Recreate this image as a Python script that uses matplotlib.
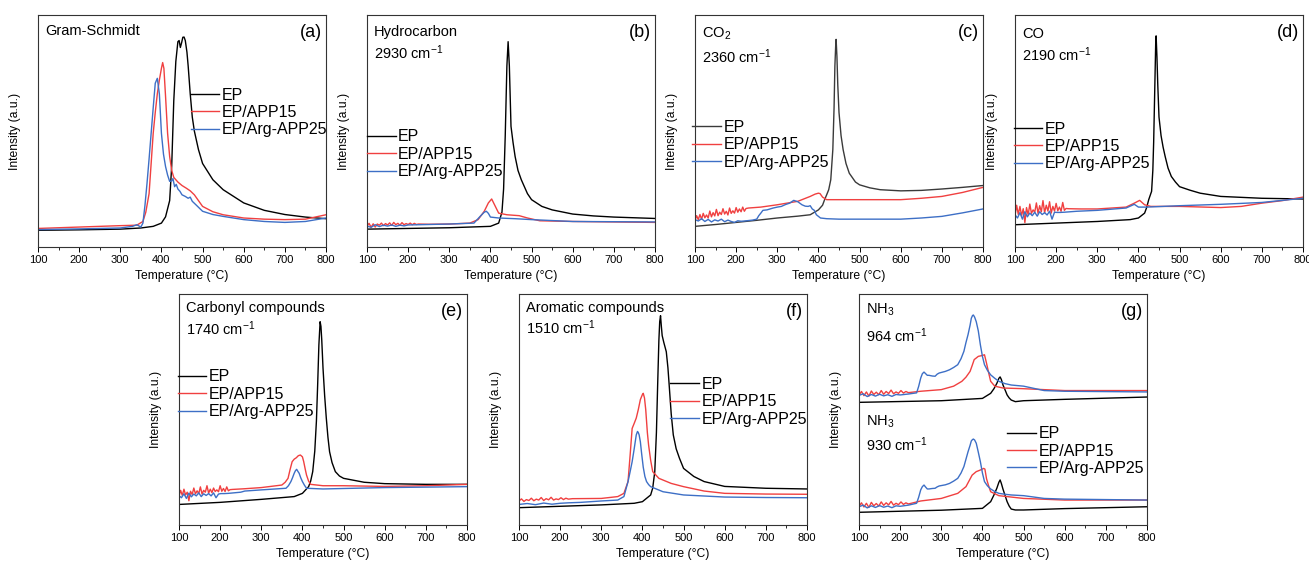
import matplotlib
matplotlib.use('Agg')
import matplotlib.pyplot as plt
from matplotlib.ticker import MultipleLocator

plt.rcParams['font.family'] = ['Liberation Sans', 'DejaVu Sans']
plt.rcParams['mathtext.fontset'] = 'custom'
plt.rcParams['mathtext.rm'] = 'Liberation Sans'
plt.rcParams['mathtext.it'] = 'Liberation Sans:italic'
plt.rcParams['mathtext.default'] = 'regular'

labels = ['EP', 'EP/APP15', 'EP/Arg-APP25']

# (a) Gram-Schmidt
a_ep_t = [100, 200, 300, 350, 380, 400, 410, 420, 425, 430, 435, 440, 443, 446, 449, 452, 455, 458, 462, 465, 470, 475, 480, 490, 500, 525, 550, 600, 650, 700, 750, 800]
a_ep_i = [7.2, 7.4, 7.7, 8.2, 8.9, 10.3, 13, 20, 35, 63, 80, 88.5, 89, 86, 88, 90.4, 90.5, 89, 84, 78, 66, 56, 50, 42, 36, 29, 24.7, 19, 15.8, 14, 12.9, 12.2]
a_app15_t = [100, 150, 200, 250, 300, 340, 355, 362, 370, 375, 380, 385, 390, 395, 400, 403, 406, 410, 415, 420, 425, 430, 440, 450, 460, 470, 480, 490, 500, 525, 550, 600, 650, 700, 750, 800]
a_app15_i = [8.0, 8.3, 8.6, 8.9, 9.2, 9.4, 11, 15, 23, 36, 49, 58, 66, 72, 77, 79.5, 77, 65, 49, 39, 33, 30, 28, 26.5, 25.4, 24.2, 22.5, 20, 17.5, 15.2, 13.9, 12.5, 12, 11.8, 12, 13.9]
a_arg_t = [100, 200, 300, 330, 340, 350, 355, 360, 365, 370, 375, 380, 385, 390, 395, 400, 405, 410, 415, 420, 425, 428, 432, 436, 440, 445, 450, 458, 465, 470, 475, 485, 500, 525, 550, 600, 650, 700, 750, 800]
a_arg_i = [7.5, 7.8, 8.2, 8.9, 9.6, 8.6, 10.3, 18, 27.5, 38, 49, 60, 70.6, 72.7, 66, 49, 40, 34.7, 31, 28.3, 28.5, 29.5, 26, 27, 25, 24, 22.5, 21.8, 21, 21.5, 19.7, 18, 15.4, 14, 13.2, 11.8, 11, 10.6, 11, 12.5]

# (b) Hydrocarbon
b_ep_t = [100, 200, 300, 400, 420, 428, 432, 436, 440, 443, 446, 450, 455, 460, 467, 475, 490, 500, 525, 550, 600, 650, 700, 800]
b_ep_i = [7.7, 8.0, 8.3, 8.9, 10.3, 15, 25, 48, 78, 88.5, 78, 52, 45, 39, 33, 29, 23, 20.4, 17.5, 16, 14.2, 13.4, 12.9, 12.3]
b_app15_t = [100, 105, 110, 115, 120, 125, 130, 135, 140, 145, 150, 155, 160, 165, 170, 175, 180, 185, 190, 195, 200, 205, 210, 215, 220, 225, 250, 300, 350, 370, 385, 395, 403, 410, 420, 440, 470, 490, 520, 600, 700, 800]
b_app15_i = [9.0, 10.2, 8.5, 10.0, 8.6, 9.9, 9.4, 10.3, 9.2, 10.1, 9.5, 10.4, 9.3, 10.6, 9.6, 10.2, 9.4, 10.5, 9.6, 10.1, 9.7, 10.3, 9.6, 10.2, 9.7, 9.9, 9.8, 9.9, 10.3, 11.8, 15.4, 19, 20.7, 18.2, 14.6, 13.9, 13.5, 12.5, 11.3, 11, 10.8, 10.6]
b_arg_t = [100, 110, 120, 130, 140, 150, 160, 170, 180, 190, 200, 225, 250, 300, 360, 375, 385, 390, 395, 400, 420, 460, 500, 600, 700, 800]
b_arg_i = [9.0, 8.5, 9.6, 8.8, 9.4, 9.0, 9.5, 8.9, 9.4, 9.1, 9.5, 9.6, 9.7, 9.9, 10.3, 13.2, 15, 15.4, 14.5, 12.9, 12.5, 12.2, 11.8, 11, 10.9, 10.8]

# (c) CO2
c_ep_t = [100, 150, 200, 250, 300, 350, 380, 400, 410, 415, 420, 425, 430, 435, 438, 440, 442, 443, 445, 447, 450, 455, 460, 467, 475, 490, 500, 525, 550, 600, 650, 700, 750, 800]
c_ep_i = [8.9, 9.7, 10.6, 11.5, 12.5, 13.3, 13.9, 16, 18, 20.4, 22.5, 24.7, 29, 42, 60, 78, 87, 89.5, 82, 70, 58, 48, 42, 36, 31.8, 28, 26.8, 25.5, 24.7, 24.2, 24.4, 25, 25.7, 26.5]
c_app15_t = [100, 104, 108, 112, 116, 120, 124, 128, 132, 136, 140, 144, 148, 152, 156, 160, 164, 168, 172, 176, 180, 184, 188, 192, 196, 200, 204, 208, 212, 216, 220, 224, 230, 260, 300, 350, 380, 392, 400, 404, 410, 420, 450, 500, 600, 650, 700, 750, 800]
c_app15_i = [11.5, 13.5, 11.8, 14.0, 12.0, 14.5, 12.6, 13.8, 12.5, 15.5, 13.0, 14.8, 13.4, 16.2, 13.5, 15.0, 14.0, 16.5, 14.2, 15.4, 13.8, 16.8, 14.5, 15.6, 14.6, 17.0, 15.0, 16.4, 15.2, 17.2, 15.4, 16.6, 16.8, 17.2, 18.2, 19.7, 21.8, 22.8, 23.2, 23, 21.5, 20.4, 20.4, 20.4, 20.4, 21, 21.8, 23.5, 25.7]
c_arg_t = [100, 108, 116, 124, 132, 140, 148, 156, 164, 172, 180, 188, 196, 204, 212, 220, 230, 240, 250, 255, 260, 265, 275, 290, 300, 310, 320, 330, 340, 350, 360, 368, 375, 380, 385, 390, 395, 400, 405, 420, 450, 500, 600, 650, 700, 750, 800]
c_arg_i = [11.8, 11.2, 12.2, 11.0, 11.9, 10.8, 11.7, 11.2, 12.0, 10.9, 11.6, 11.0, 10.6, 11.3, 11.1, 11.2, 11.4, 11.6, 12, 13.5, 14.6, 15.8, 16.0, 16.8, 17.2, 17.5, 18.3, 18.9, 20.1, 19.5, 18.2, 17.6, 17.5, 17.8, 16.4, 15.8, 13.9, 13.2, 12.5, 12.2, 12, 12, 12, 12.5, 13.2, 14.7, 16.4]

# (d) CO
d_ep_t = [100, 200, 300, 380, 400, 415, 420, 425, 432, 435, 437, 440, 442, 443, 445, 447, 450, 455, 460, 465, 472, 480, 490, 500, 525, 550, 600, 700, 800]
d_ep_i = [9.6, 10.3, 11, 11.8, 12.5, 14.6, 17, 20.4, 24, 33, 45, 70.6, 88, 91, 82, 70, 56, 48, 43, 39, 34, 30.4, 28, 26, 24.5, 23.2, 21.8, 21, 20.7]
d_app15_t = [100, 104, 108, 112, 116, 120, 124, 128, 132, 136, 140, 144, 148, 152, 156, 160, 164, 168, 172, 176, 180, 184, 188, 192, 196, 200, 204, 208, 212, 216, 220, 224, 230, 260, 300, 370, 390, 403, 415, 430, 500, 600, 650, 700, 750, 800]
d_app15_i = [13.5, 18.0, 14.0, 17.5, 13.5, 16.5, 10.5, 17.0, 13.8, 18.5, 14.5, 16.0, 15.0, 19.0, 14.5, 17.8, 15.2, 20.0, 14.8, 18.0, 15.5, 19.5, 14.6, 17.5, 15.5, 18.8, 15.6, 17.2, 15.4, 19.2, 15.8, 16.6, 16.5, 16.4, 16.4, 17.2, 18.9, 20.1, 18.2, 17.5, 17.5, 17.0, 17.5, 18.9, 20.0, 21.5]
d_arg_t = [100, 106, 112, 118, 124, 130, 136, 142, 148, 154, 160, 166, 172, 178, 184, 190, 196, 202, 210, 220, 250, 300, 370, 390, 400, 420, 500, 600, 700, 800]
d_arg_i = [13.9, 12.5, 14.8, 12.0, 15.2, 13.0, 14.6, 13.5, 15.0, 13.3, 15.2, 14.0, 14.8, 13.8, 15.4, 12.0, 15.0, 14.9, 14.9, 15.0, 15.4, 15.8, 16.8, 18.4, 17.2, 17.2, 17.8, 18.4, 19.2, 21]

# (e) Carbonyl compounds
e_ep_t = [100, 200, 300, 380, 400, 415, 420, 425, 430, 434, 437, 440, 443, 445, 447, 450, 454, 458, 462, 466, 472, 480, 490, 500, 550, 600, 700, 800]
e_ep_i = [8.9, 9.8, 11.1, 12.3, 13.7, 16.6, 19, 23.1, 32, 45, 60.6, 78, 88, 86, 80, 68, 56, 46.3, 38, 31.7, 27, 23.1, 21.2, 20.2, 18.5, 17.9, 17.6, 17.6]
e_app15_t = [100, 104, 108, 112, 116, 120, 124, 128, 132, 136, 140, 144, 148, 152, 156, 160, 164, 168, 172, 176, 180, 184, 188, 192, 196, 200, 204, 208, 212, 216, 220, 224, 230, 260, 300, 350, 358, 365, 370, 375, 380, 385, 390, 395, 400, 403, 407, 410, 415, 420, 450, 500, 600, 700, 800]
e_app15_i = [12.5, 15.0, 12.8, 15.5, 13.0, 14.2, 10.5, 14.6, 13.2, 16.0, 13.5, 14.8, 13.6, 16.5, 13.4, 15.0, 14.2, 17.0, 13.8, 15.5, 14.0, 16.0, 14.5, 15.2, 14.4, 17.0, 14.6, 15.8, 14.5, 16.5, 14.8, 15.3, 15.4, 15.7, 16.2, 17.3, 18.5, 20.2, 24, 27.4, 28.5, 29.1, 30, 30.3, 29.5, 27.5, 24, 21.6, 19, 17.6, 17, 17, 16.7, 17, 17.6]
e_arg_t = [100, 106, 112, 118, 124, 130, 136, 142, 148, 154, 160, 166, 172, 178, 184, 190, 196, 202, 210, 220, 250, 260, 300, 360, 366, 372, 376, 380, 383, 386, 389, 392, 396, 400, 405, 410, 450, 600, 800]
e_arg_i = [12.7, 11.8, 13.5, 11.5, 13.8, 12.2, 13.4, 12.6, 13.9, 12.3, 13.5, 12.8, 13.6, 12.6, 13.9, 11.8, 13.4, 13.6, 13.6, 13.7, 14.2, 14.7, 15.2, 15.9, 17, 18.8, 20.5, 22.4, 23.5, 24.1, 23.2, 22.4, 20.4, 18.8, 17.2, 15.9, 15.6, 16.2, 16.6]

# (f) Aromatic compounds
f_ep_t = [100, 200, 300, 380, 400, 420, 425, 430, 434, 437, 440, 442, 444, 446, 448, 452, 455, 458, 462, 465, 470, 475, 482, 490, 500, 525, 550, 600, 700, 800]
f_ep_i = [7.5, 8.1, 8.7, 9.4, 10.1, 13, 16, 23.1, 40, 60.6, 80, 88, 90.6, 86, 82, 79, 77, 75, 68, 60.6, 48, 39, 33, 28.9, 24.5, 21, 18.8, 16.7, 15.9, 15.6]
f_app15_t = [100, 106, 112, 118, 124, 130, 136, 142, 148, 154, 160, 166, 172, 178, 184, 190, 196, 202, 208, 214, 220, 230, 300, 340, 355, 365, 370, 375, 380, 385, 390, 395, 400, 402, 405, 408, 412, 415, 420, 425, 440, 470, 500, 550, 600, 700, 800]
f_app15_i = [10.4, 11.3, 10.2, 11.0, 10.6, 11.6, 10.5, 11.2, 10.8, 11.9, 10.6, 11.4, 10.9, 12.0, 10.8, 11.3, 11.0, 11.8, 11.0, 11.6, 11.2, 11.4, 11.5, 12.3, 13.7, 18.8, 30, 41.8, 44, 46.3, 50, 54.3, 56.5, 57, 55, 50, 40, 34.6, 28, 23.1, 20.2, 18, 16.6, 14.7, 13.7, 13.4, 13.3]
f_arg_t = [100, 120, 140, 160, 180, 200, 220, 250, 300, 340, 355, 365, 370, 375, 380, 385, 388, 390, 392, 395, 398, 402, 406, 410, 415, 420, 450, 500, 600, 700, 800]
f_arg_i = [8.9, 9.3, 8.8, 9.5, 9.0, 9.4, 9.6, 9.8, 10.4, 10.8, 12.3, 18.8, 23, 27.4, 33, 39, 40.5, 40, 39, 36, 31, 25, 21, 18.8, 17.5, 16.6, 14.4, 13, 12.1, 11.9, 11.8]

# (g) NH3, 964 cm-1 (upper set)
g1_ep_t = [100, 300, 400, 420, 428, 435, 440, 443, 446, 450, 455, 460, 465, 470, 480, 500, 600, 800]
g1_ep_i = [53.1, 53.8, 54.8, 57, 59, 61.3, 63.5, 64.1, 63, 60.6, 58.5, 56.3, 55, 54.1, 53.4, 53.8, 54.4, 55.4]
g1_app15_t = [100, 106, 112, 118, 124, 130, 136, 142, 148, 154, 160, 166, 172, 178, 184, 190, 196, 202, 208, 214, 220, 250, 300, 330, 350, 360, 370, 375, 380, 390, 400, 405, 410, 415, 420, 430, 450, 500, 600, 800]
g1_app15_i = [56.2, 57.8, 56.0, 57.6, 55.8, 58.0, 56.5, 57.5, 56.4, 58.2, 56.6, 57.8, 56.9, 58.4, 56.8, 57.6, 57.0, 58.2, 57.1, 57.8, 57.3, 57.9, 58.6, 60.1, 62.2, 64, 66.5, 69, 71.6, 73, 73.4, 73.7, 70, 66, 62.2, 60.1, 59.3, 59, 58.2, 58.2]
g1_arg_t = [100, 110, 120, 130, 140, 150, 160, 170, 180, 190, 200, 220, 240, 245, 250, 254, 258, 262, 266, 270, 278, 285, 290, 295, 310, 320, 330, 340, 348, 355, 360, 365, 370, 373, 376, 378, 381, 385, 390, 395, 400, 405, 412, 420, 430, 440, 455, 470, 500, 550, 600, 800]
g1_arg_i = [56.1, 56.8, 55.6, 56.5, 55.8, 56.6, 55.9, 56.4, 55.7, 56.5, 56.3, 56.7, 57.2, 60, 63.6, 65.5, 66.2, 65.5, 64.8, 64.8, 64.5, 64.4, 65.3, 65.8, 66.5, 67.2, 68.2, 69.4, 72, 75.2, 79, 82.4, 86.5, 89.5, 90.7, 90.9, 90, 88, 84, 78, 73, 69.4, 67, 65, 63.5, 62.2, 61.2, 60.6, 60.1, 58.2, 57.9, 57.6]

# (g) NH3, 930 cm-1 (lower set)
g2_ep_t = [100, 300, 400, 420, 428, 435, 440, 443, 446, 450, 455, 460, 465, 470, 480, 500, 600, 800]
g2_ep_i = [5.5, 6.4, 7.2, 10.1, 13, 15.9, 18.5, 19.5, 18, 15.5, 12.8, 10.1, 8.2, 6.9, 6.5, 6.5, 7.1, 7.9]
g2_app15_t = [100, 106, 112, 118, 124, 130, 136, 142, 148, 154, 160, 166, 172, 178, 184, 190, 196, 202, 208, 214, 220, 250, 300, 340, 360, 375, 385, 395, 403, 406, 410, 415, 420, 440, 500, 600, 800]
g2_app15_i = [8.0, 9.6, 7.8, 9.4, 7.6, 9.8, 8.3, 9.3, 8.2, 10.0, 8.5, 9.6, 8.7, 10.2, 8.6, 9.4, 8.8, 10.0, 8.9, 9.6, 9.1, 10.4, 11.5, 13.7, 16.6, 21.6, 23.1, 23.8, 24.5, 24.2, 20, 17, 14.4, 12.7, 11.5, 10.8, 10.8]
g2_arg_t = g1_arg_t
g2_arg_i = [7.9, 8.6, 7.4, 8.3, 7.6, 8.4, 7.7, 8.2, 7.5, 8.3, 8.1, 8.6, 9.4, 12, 15.2, 16.6, 17.3, 16.4, 15.6, 15.6, 15.8, 15.9, 16.5, 16.9, 17.4, 18, 19, 20.2, 22.5, 25.3, 28.5, 31.7, 34.5, 36.4, 37, 37.2, 36.8, 35.4, 31.5, 27.4, 22.5, 18.8, 17, 15.6, 14.5, 13.7, 13.3, 13, 12.7, 11.5, 11.2, 10.8]

RED = '#f04040'
BLUE = '#3d6fc6'

W, H = 1309, 562
fig = plt.figure(figsize=(W / 100, H / 100), dpi=100)


def make_ax(left, top, bottom, width=288):
    return fig.add_axes([left / W, 1 - bottom / H, width / W, (bottom - top) / H])


panels = [
    # axes px, curves, texts, tag, legend (x, yc)
    (make_ax(38, 15, 247), [(a_ep_t, a_ep_i, 'k'), (a_app15_t, a_app15_i, RED), (a_arg_t, a_arg_i, BLUE)],
     [('Gram-Schmidt', 0.93)], '(a)', (0.53, 0.58)),
    (make_ax(367, 15, 247), [(b_ep_t, b_ep_i, 'k'), (b_app15_t, b_app15_i, RED), (b_arg_t, b_arg_i, BLUE)],
     [('Hydrocarbon', 0.925), ('2930 cm$^{-1}$', 0.838)], '(b)', (0.0, 0.40)),
    (make_ax(695, 15, 247), [(c_ep_t, c_ep_i, '#3a3a3a'), (c_app15_t, c_app15_i, RED), (c_arg_t, c_arg_i, BLUE)],
     [('CO$_2$', 0.92), ('2360 cm$^{-1}$', 0.82)], '(c)', (-0.01, 0.44)),
    (make_ax(1015, 15, 247), [(d_ep_t, d_ep_i, 'k'), (d_app15_t, d_app15_i, RED), (d_arg_t, d_arg_i, BLUE)],
     [('CO', 0.92), ('2190 cm$^{-1}$', 0.83)], '(d)', (-0.005, 0.433)),
    (make_ax(179, 294, 525), [(e_ep_t, e_ep_i, 'k'), (e_app15_t, e_app15_i, RED), (e_arg_t, e_arg_i, BLUE)],
     [('Carbonyl compounds', 0.938), ('1740 cm$^{-1}$', 0.85)], '(e)', (-0.005, 0.566)),
    (make_ax(519, 294, 525), [(f_ep_t, f_ep_i, 'k'), (f_app15_t, f_app15_i, RED), (f_arg_t, f_arg_i, BLUE)],
     [('Aromatic compounds', 0.94), ('1510 cm$^{-1}$', 0.854)], '(f)', (0.525, 0.534)),
    (make_ax(859, 294, 525), [(g2_ep_t, g2_ep_i, 'k'), (g2_app15_t, g2_app15_i, RED), (g2_arg_t, g2_arg_i, BLUE),
                              (g1_ep_t, g1_ep_i, 'k'), (g1_app15_t, g1_app15_i, RED), (g1_arg_t, g1_arg_i, BLUE)],
     [('NH$_3$', 0.93), ('964 cm$^{-1}$', 0.82), ('NH$_3$', 0.447), ('930 cm$^{-1}$', 0.346)], '(g)', (0.515, 0.32)),
]

for ax, curves, texts, tag, leg in panels:
    for i, (t, y, c) in enumerate(curves):
        ax.plot(t, y, color=c, lw=1.0, label=labels[i] if i < 3 else None)
    ax.set_xlim(100, 800)
    ax.set_ylim(0, 100)
    ax.xaxis.set_major_locator(MultipleLocator(100))
    ax.xaxis.set_minor_locator(MultipleLocator(50))
    ax.tick_params(axis='x', which='major', direction='out', length=3.5, width=0.7, labelsize=8, pad=2)
    ax.tick_params(axis='x', which='minor', direction='out', length=2, width=0.6)
    ax.tick_params(axis='y', which='both', left=False, labelleft=False)
    for s in ax.spines.values():
        s.set_linewidth(0.8)
        s.set_color('#333333')
    ax.set_xlabel('Temperature (°C)', fontsize=8.7, labelpad=4)
    ax.set_ylabel('Intensity (a.u.)', fontsize=8.7, labelpad=12)
    for txt, yy in texts:
        ax.text(0.025, yy, txt, transform=ax.transAxes, fontsize=10.5, ha='left', va='center')
    ax.text(0.985, 0.925, tag, transform=ax.transAxes, fontsize=13, ha='right', va='center')
    ax.legend(loc='center left', bbox_to_anchor=leg, frameon=False, fontsize=11.5,
              handlelength=1.8, handletextpad=0.15, labelspacing=0.15, borderpad=0, borderaxespad=0)

fig.savefig('out.png', dpi=100)
